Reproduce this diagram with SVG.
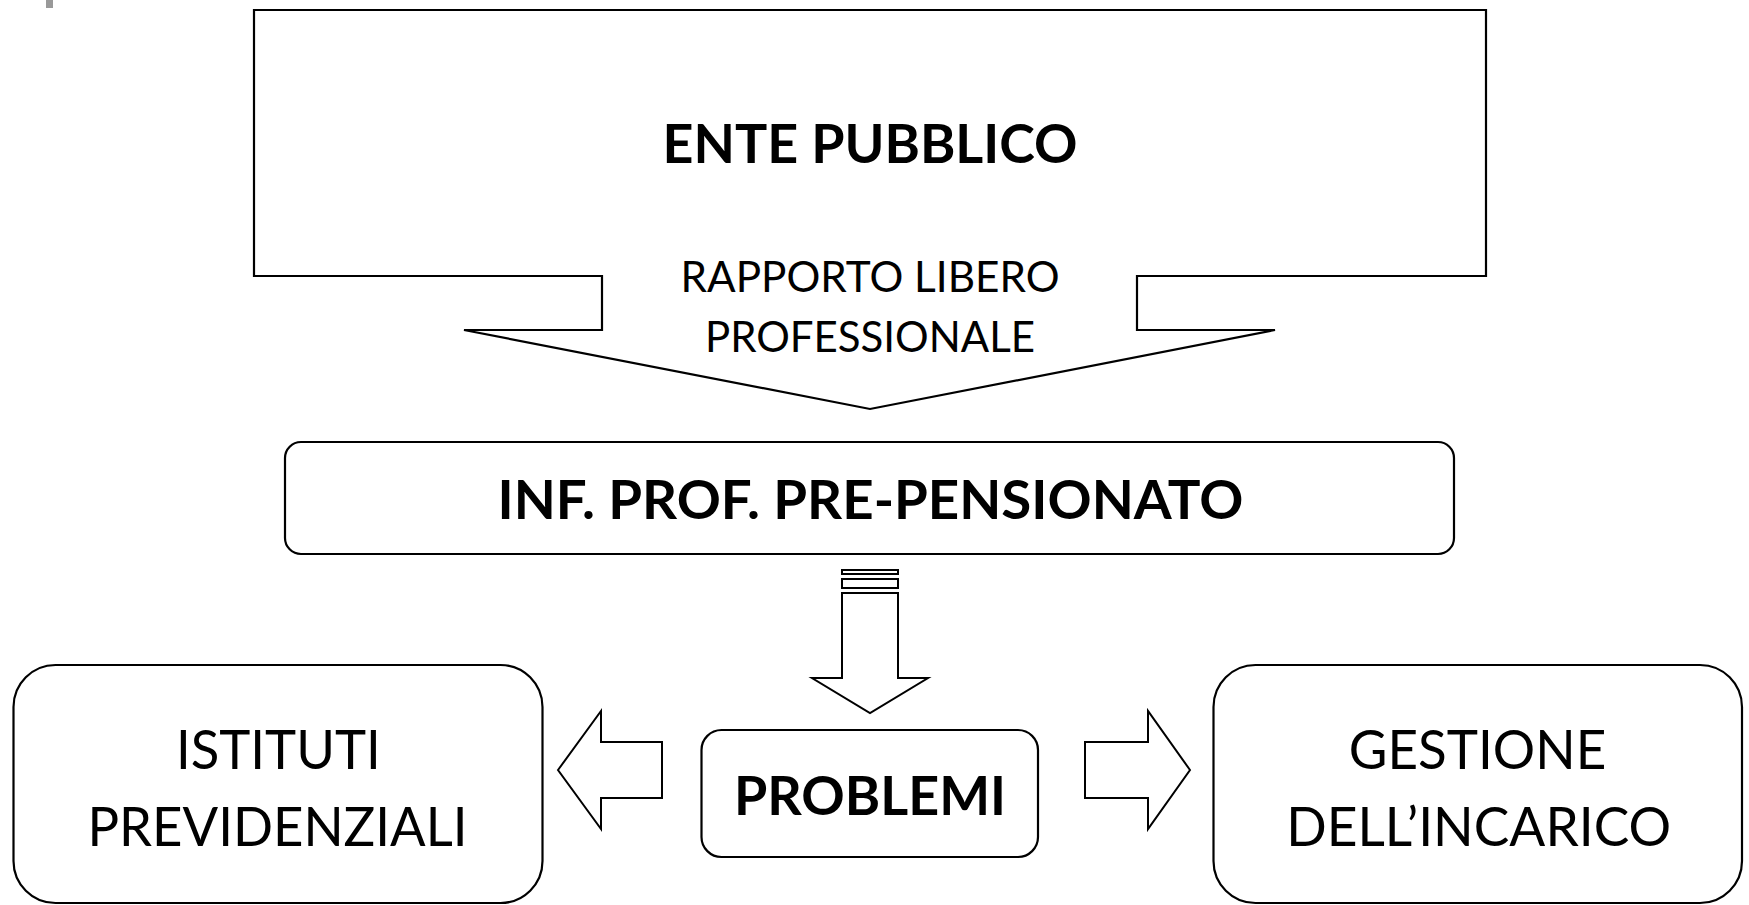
<svg xmlns="http://www.w3.org/2000/svg" width="1749" height="905" viewBox="0 0 1749 905">
  <style>
    .shape { fill: #ffffff; stroke: #000000; stroke-width: 2.2; stroke-linejoin: miter; }
    .arrow { fill: #ffffff; stroke: #000000; stroke-width: 2; stroke-linejoin: miter; }
    .t { font-family: Lato, "Open Sans", "Liberation Sans", sans-serif; fill: #000000; text-anchor: middle; }
    .b { font-weight: 700; }
  </style>
  <rect x="0" y="0" width="1749" height="905" fill="#ffffff"/>
  <rect x="46" y="0" width="7" height="8" fill="#999999"/>

  <g id="ente-pubblico">
    <path class="shape" d="M254,10 H1486 V276 H1137 V330 H1275 L870,409 L464,330 H602 V276 H254 Z"/>
    <text class="t b" x="870" y="163" font-size="53" textLength="415" lengthAdjust="spacingAndGlyphs">ENTE PUBBLICO</text>
    <text class="t" x="870" y="292" font-size="42" textLength="379" lengthAdjust="spacingAndGlyphs">RAPPORTO LIBERO</text>
    <text class="t" x="870" y="352" font-size="42" textLength="330" lengthAdjust="spacingAndGlyphs">PROFESSIONALE</text>
  </g>

  <g id="inf-prof">
    <rect class="shape" x="285" y="442" width="1169" height="112" rx="16" ry="16" stroke-width="2"/>
    <text class="t b" x="870.5" y="519" font-size="54" textLength="746" lengthAdjust="spacingAndGlyphs">INF. PROF. PRE-PENSIONATO</text>
  </g>

  <g id="problemi">
    <rect class="shape" x="701.5" y="730" width="336.5" height="127" rx="20" ry="20" stroke-width="2"/>
    <text class="t b" x="870" y="815" font-size="53.5" textLength="272" lengthAdjust="spacingAndGlyphs">PROBLEMI</text>
  </g>

  <g id="istituti">
    <rect class="shape" x="13.5" y="665" width="529" height="238" rx="42" ry="42" stroke-width="2"/>
    <text class="t" x="278.4" y="769" font-size="54" textLength="205" lengthAdjust="spacingAndGlyphs">ISTITUTI</text>
    <text class="t" x="277.5" y="846" font-size="54" textLength="380" lengthAdjust="spacingAndGlyphs">PREVIDENZIALI</text>
  </g>

  <g id="gestione">
    <rect class="shape" x="1213.5" y="665" width="528.5" height="238" rx="42" ry="42" stroke-width="2"/>
    <text class="t" x="1477.5" y="769" font-size="54" textLength="257.5" lengthAdjust="spacingAndGlyphs">GESTIONE</text>
    <text class="t" x="1478.7" y="846" font-size="54" textLength="385" lengthAdjust="spacingAndGlyphs">DELL’INCARICO</text>
  </g>

  <g id="connectors">
    <g id="arrow-down">
      <rect class="arrow" x="842" y="570" width="56" height="4"/>
      <rect class="arrow" x="842" y="579" width="56" height="9"/>
      <path class="arrow" d="M842,593 H898 V678 H928 L870,713 L812,678 H842 Z"/>
    </g>
    <path id="arrow-left" class="arrow" stroke-width="1.8" d="M558,770 L601,711 V742 H662 V798 H601 V829 Z"/>
    <path id="arrow-right" class="arrow" stroke-width="1.8" d="M1190,770 L1148,711 V742 H1085 V798 H1148 V829 Z"/>
  </g>
</svg>
